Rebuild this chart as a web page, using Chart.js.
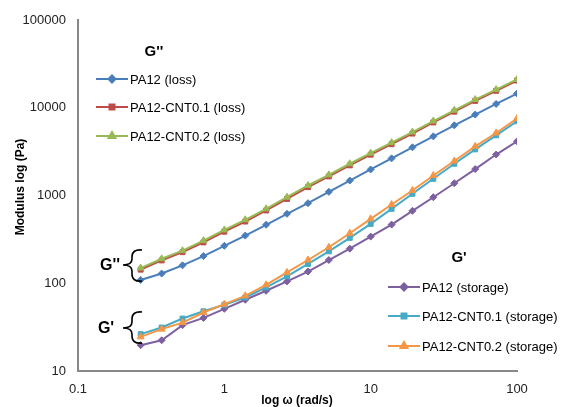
<!DOCTYPE html>
<html>
<head>
<meta charset="utf-8">
<script src="https://cdn.jsdelivr.net/npm/chart.js@4.4.0/dist/chart.umd.min.js"></script>
<style>
    html, body { margin: 0; padding: 0; background: #fff; }
    #wrap { width: 568px; height: 407px; position: relative; }
</style>
</head>
<body>
<div id="wrap"><canvas id="modulus-chart" width="568" height="407"></canvas></div>
<script>
// angular frequency (rad/s)
var freqs = [0.268, 0.373, 0.518, 0.720, 1.0, 1.39, 1.93, 2.68, 3.73, 5.18, 7.20, 10.0, 13.9, 19.3, 26.8, 37.3, 51.8, 72.0, 100];

// loss modulus G'' (Pa)
var lossPA12 = [109, 129, 160, 204, 267, 349, 464, 618, 817, 1100, 1480, 1980, 2650, 3540, 4720, 6310, 8360, 11050, 14500];
var lossCNT01 = [143, 182, 226, 292, 387, 505, 675, 915, 1245, 1650, 2205, 2920, 3840, 5080, 6800, 9020, 11970, 15600, 20400];
var lossCNT02 = [149, 190, 235, 306, 405, 528, 705, 956, 1300, 1720, 2300, 3040, 4000, 5290, 7060, 9360, 12400, 16100, 21000];

// storage modulus G' (Pa)
var storPA12 = [19.7, 22.4, 33.3, 40.3, 51.1, 64.8, 82.1, 105, 136, 184, 248, 340, 466, 669, 956, 1380, 2000, 2930, 4140];
var storCNT01 = [26.3, 31.3, 39.6, 47.9, 56.8, 68.8, 89.6, 120, 166, 231, 329, 475, 705, 1046, 1550, 2300, 3355, 4850, 7010];
var storCNT02 = [24.5, 30.0, 35.6, 46.4, 57.8, 71.9, 96.1, 133, 184, 257, 371, 542, 789, 1140, 1690, 2470, 3630, 5150, 7530];

var xTicks = [0.1, 1, 10, 100];
var yTicks = [10, 100, 1000, 10000, 100000];

function pts(values) {
    return values.map(function (v, i) { return { x: freqs[i], y: v }; });
}

function series(label, values, color, style, radius, order) {
    return {
        label: label,
        data: pts(values),
        borderColor: color,
        backgroundColor: color,
        borderWidth: 2,
        pointStyle: style,
        pointRadius: radius,
        pointBorderWidth: 1,
        pointHoverRadius: radius,
        tension: 0,
        order: order
    };
}

var datasets = [
    series('PA12 (loss)', lossPA12, '#4a7ebb', 'rectRot', 3.5, 3),
    series('PA12-CNT0.1 (loss)', lossCNT01, '#be4b48', 'rect', 3.5, 2),
    series('PA12-CNT0.2 (loss)', lossCNT02, '#98b954', 'triangle', 4, 1),
    series('PA12 (storage)', storPA12, '#7d60a0', 'rectRot', 3.5, 6),
    series('PA12-CNT0.1 (storage)', storCNT01, '#46aac5', 'rect', 3.5, 5),
    series('PA12-CNT0.2 (storage)', storCNT02, '#f59647', 'triangle', 4, 4)
];

// legends, axis titles and the brace labels are painted straight onto the canvas
var overlay = {
    id: 'overlay',
    afterDraw: function (chart) {
        var ctx = chart.ctx;
        var ds = chart.data.datasets;
        ctx.save();
        ctx.fillStyle = '#000';
        ctx.textBaseline = 'middle';

        function legend(title, tx, ty, x0, rows) {
            ctx.font = 'bold 15px "Liberation Sans", Arial, sans-serif';
            ctx.textAlign = 'center';
            ctx.fillStyle = '#000';
            ctx.fillText(title, tx, ty);
            ctx.font = '13px "Liberation Sans", Arial, sans-serif';
            ctx.textAlign = 'left';
            rows.forEach(function (r) {
                var d = ds[r.i];
                ctx.strokeStyle = d.borderColor;
                ctx.lineWidth = 2;
                ctx.beginPath();
                ctx.moveTo(x0, r.y);
                ctx.lineTo(x0 + 32, r.y);
                ctx.stroke();
                ctx.fillStyle = d.backgroundColor;
                Chart.helpers.drawPoint(ctx, {
                    pointStyle: d.pointStyle,
                    radius: d.pointRadius,
                    rotation: 0,
                    borderWidth: 1
                }, x0 + 16, r.y);
                ctx.fillStyle = '#000';
                ctx.fillText(d.label, x0 + 34, r.y + 1);
            });
        }

        legend("G''", 154, 52, 96, [{ i: 0, y: 79 }, { i: 1, y: 107 }, { i: 2, y: 136 }]);
        legend("G'", 459, 258, 388, [{ i: 3, y: 287 }, { i: 4, y: 316 }, { i: 5, y: 346 }]);

        // curly braces grouping the low-frequency ends
        function brace(label, lx, yTop, yMid, yBot) {
            ctx.font = 'bold 16px "Liberation Sans", Arial, sans-serif';
            ctx.textAlign = 'center';
            ctx.fillStyle = '#000';
            ctx.fillText(label, lx, yMid + 1);
            ctx.strokeStyle = '#000';
            ctx.lineWidth = 1.6;
            ctx.beginPath();
            ctx.moveTo(142, yTop);
            ctx.quadraticCurveTo(132, yTop - 1, 132, yTop + 7);
            ctx.lineTo(132, yMid - 6);
            ctx.quadraticCurveTo(132, yMid, 123, yMid);
            ctx.quadraticCurveTo(132, yMid, 132, yMid + 6);
            ctx.lineTo(132, yBot - 7);
            ctx.quadraticCurveTo(132, yBot + 1, 142, yBot);
            ctx.stroke();
        }
        brace("G''", 110, 250, 265, 281);
        brace("G'", 106, 312, 328, 343);

        // axis titles
        ctx.fillStyle = '#000';
        ctx.font = 'bold 12px "Liberation Sans", Arial, sans-serif';
        ctx.textAlign = 'center';
        ctx.fillText('log \u03c9 (rad/s)', 297, 401);

        ctx.translate(21, 187);
        ctx.rotate(-Math.PI / 2);
        ctx.fillText('Modulus log (Pa)', 0, 0);
        ctx.restore();
    }
};

var ctx = document.getElementById('modulus-chart').getContext('2d');
new Chart(ctx, {
    type: 'line',
    data: { datasets: datasets },
    plugins: [overlay],
    options: {
        responsive: false,
        animation: false,
        events: [],
        layout: { padding: { top: 20, right: 51, left: 0, bottom: 0 } },
        plugins: {
            legend: { display: false },
            tooltip: { enabled: false }
        },
        scales: {
            x: {
                type: 'logarithmic',
                min: 0.1,
                max: 100,
                afterBuildTicks: function (scale) {
                    scale.ticks = xTicks.map(function (v) { return { value: v }; });
                },
                afterFit: function (scale) { scale.height = 36; },
                grid: { display: false, drawTicks: false },
                border: { display: true, color: '#888888', width: 2 },
                ticks: {
                    padding: 11,
                    color: '#222',
                    maxRotation: 0,
                    font: { family: '"Liberation Sans", Arial, sans-serif', size: 13 },
                    callback: function (v) { return String(v); }
                }
            },
            y: {
                type: 'logarithmic',
                min: 10,
                max: 100000,
                afterBuildTicks: function (scale) {
                    scale.ticks = yTicks.map(function (v) { return { value: v }; });
                },
                afterFit: function (scale) { scale.width = 78; },
                grid: { display: false, drawTicks: false },
                border: { display: true, color: '#888888', width: 2 },
                ticks: {
                    padding: 12,
                    color: '#222',
                    font: { family: '"Liberation Sans", Arial, sans-serif', size: 13 },
                    callback: function (v) { return String(v); }
                }
            }
        }
    }
});
</script>
</body>
</html>
